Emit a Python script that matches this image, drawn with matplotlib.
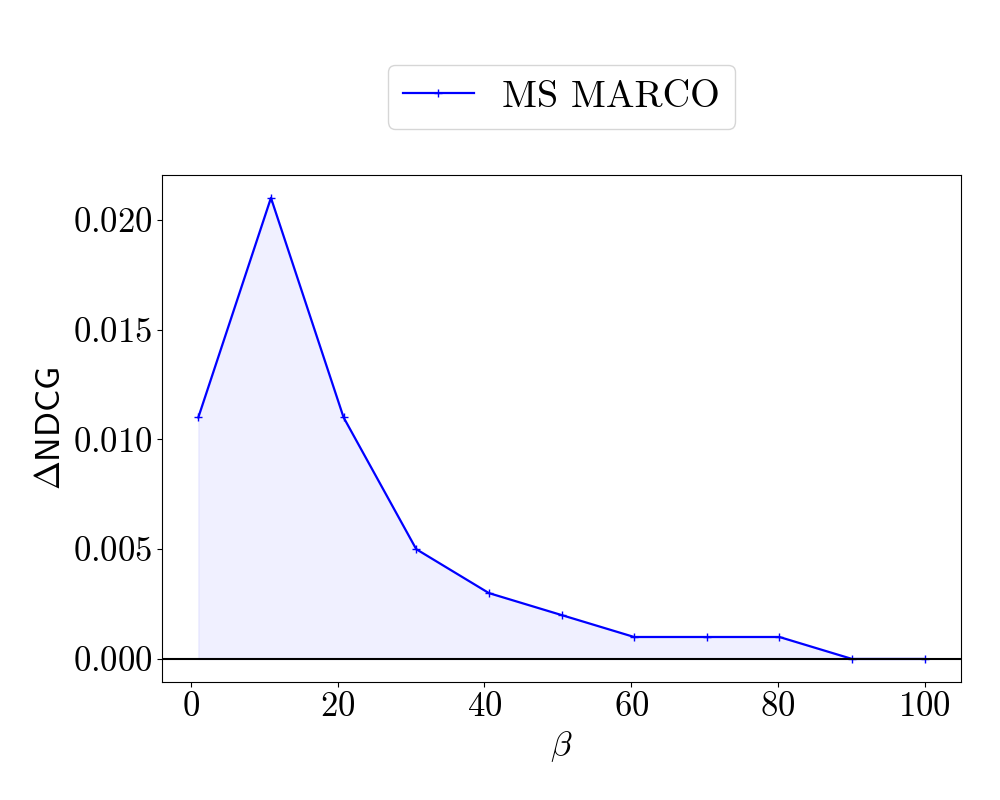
import matplotlib
matplotlib.use("Agg")
import matplotlib.pyplot as plt

plt.rcParams["font.family"] = "serif"
plt.rcParams["font.serif"] = ["cmr10"]
plt.rcParams["mathtext.fontset"] = "cm"
plt.rcParams["axes.formatter.use_mathtext"] = True
plt.rcParams["axes.unicode_minus"] = False

beta = [1, 10.9, 20.8, 30.7, 40.6, 50.5, 60.4, 70.3, 80.2, 90.1, 100]
delta_ndcg = [0.011, 0.021, 0.011, 0.005, 0.003, 0.002, 0.001, 0.001, 0.001, 0.0, 0.0]
series_label = "MS MARCO"

fig = plt.figure(figsize=(10, 8), dpi=100)
ax = fig.add_axes([0.162, 0.1475, 0.799, 0.634])

ax.plot(beta, delta_ndcg, color="blue", marker="+", markersize=6, lw=1.6,
        label=series_label)
ax.fill_between(beta, delta_ndcg, 0, color="blue", alpha=0.06, lw=1)
ax.axhline(0, color="black", lw=1.5)

ax.tick_params(labelsize=25)
ax.set_xlabel(r"$\beta$", fontsize=25)
ax.set_ylabel(r"$\Delta\mathsf{NDCG}$", fontsize=25)

ax.legend(loc="center", bbox_to_anchor=(0.5, 1.154), fontsize=27.5,
          handlelength=1.85, handletextpad=0.75)

fig.savefig("out.png", dpi=100)
